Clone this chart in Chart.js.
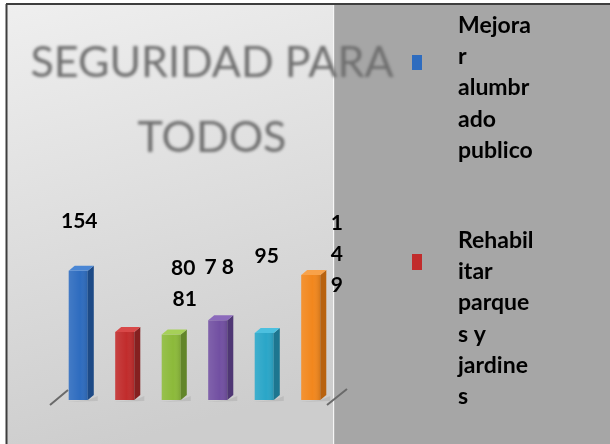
<!DOCTYPE html>
<html><head><meta charset="utf-8">
<script src="https://cdn.jsdelivr.net/npm/chart.js@4.4.0/dist/chart.umd.min.js"></script>
<style>html,body{margin:0;padding:0;background:#fff;overflow:hidden}canvas{display:block}</style>
</head><body>
<canvas id="c" width="610" height="444"></canvas>
<script>
// ---- data ----
const categories = [''];
const titleLines = ['SEGURIDAD PARA', 'TODOS'];
const seriesNames = ['Mejorar alumbrado publico', 'Rehabilitar parques y jardines', '', '', '', ''];
const legendLabels = [
  ['Mejora', 'r', 'alumbr', 'ado', 'publico'],
  ['Rehabil', 'itar', 'parque', 's y', 'jardine', 's']
];
const seriesValues = [154, 81, 78, 95, 80, 149];

// ---- styles ----
const frontColors = ['#2e6cbf', '#c12c2c', '#8cba3a', '#7250a2', '#2aa6c8', '#f2871d'];
const sideColors  = ['#1d4a86', '#852020', '#62852a', '#4f3774', '#1d7690', '#b8620f'];
const topColors   = ['#4a86d4', '#d84848', '#a6d058', '#8b6abb', '#4cc0df', '#f8a24a'];
// label offsets relative to bar top (dx, dy) and mode
const labelStyle = [
  {dx: 1, dy: -50, mode: 'normal'},
  {dx: 60, dy: -33, mode: 'normal'},
  {dx: 48, dy: -67, mode: 'spaced'},
  {dx: 49, dy: -64, mode: 'normal'},
  {dx: -81, dy: -65, mode: 'normal'},
  {dx: 26, dy: -52, mode: 'stacked'}
];

const deco = {
  id: 'deco',
  beforeDraw(chart) {
    const ctx = chart.ctx, W = chart.width, H = chart.height;
    ctx.save();
    ctx.fillStyle = '#ffffff'; ctx.fillRect(0, 0, W, H);
    const g = ctx.createLinearGradient(0, 5, 120, H);
    g.addColorStop(0, '#efefef'); g.addColorStop(1, '#cdcdcd');
    ctx.fillStyle = g; ctx.fillRect(6, 5, 328, H - 5);
    ctx.fillStyle = '#a6a6a6'; ctx.fillRect(334, 5, W - 334, H - 5);
    ctx.fillStyle = '#f6f6f6'; ctx.fillRect(333, 5, 1.2, H - 5);
    ctx.strokeStyle = '#3e3e3e'; ctx.lineWidth = 2;
    ctx.beginPath();
    ctx.moveTo(6, 4); ctx.lineTo(W, 4);
    ctx.moveTo(6.5, 4); ctx.lineTo(6.5, H);
    ctx.stroke();
    ctx.restore();
    ctx.filter = 'blur(1.4px)';
  },
  beforeDatasetsDraw(chart) {
    chart.ctx.filter = 'none';
  },
  afterDatasetsDraw(chart) {
    const ctx = chart.ctx, area = chart.chartArea;
    ctx.save();
    // floor edges
    ctx.strokeStyle = '#6a6a6a'; ctx.lineWidth = 2;
    ctx.beginPath();
    ctx.moveTo(area.left - 5, area.bottom + 5); ctx.lineTo(area.left + 13, area.bottom - 10);
    ctx.moveTo(area.right - 7, area.bottom + 5); ctx.lineTo(area.right + 13, area.bottom - 11);
    ctx.stroke();
    const dx = 6, dy = 5;
    chart.data.datasets.forEach((ds, di) => {
      const meta = chart.getDatasetMeta(di);
      meta.data.forEach((bar) => {
        const p = bar.getProps(['x', 'y', 'base', 'width'], true);
        const l = p.x - p.width / 2, r = p.x + p.width / 2;
        ctx.fillStyle = 'rgba(0,0,0,0.08)';
        ctx.beginPath(); ctx.moveTo(r, p.base); ctx.lineTo(r + 10, p.base - 4); ctx.lineTo(r + 10, p.base + 1); ctx.lineTo(l - 2, p.base + 2); ctx.closePath(); ctx.fill();
        ctx.fillStyle = sideColors[di];
        ctx.beginPath(); ctx.moveTo(r, p.y); ctx.lineTo(r + dx, p.y - dy); ctx.lineTo(r + dx, p.base - dy); ctx.lineTo(r, p.base); ctx.closePath(); ctx.fill();
        ctx.fillStyle = topColors[di];
        ctx.beginPath(); ctx.moveTo(l, p.y); ctx.lineTo(l + dx, p.y - dy); ctx.lineTo(r + dx, p.y - dy); ctx.lineTo(r, p.y); ctx.closePath(); ctx.fill();
        const g = ctx.createLinearGradient(l, 0, r, 0);
        g.addColorStop(0, 'rgba(255,255,255,0.10)'); g.addColorStop(0.6, 'rgba(255,255,255,0.0)'); g.addColorStop(1, 'rgba(0,0,0,0.12)');
        ctx.fillStyle = g; ctx.fillRect(l, p.y, p.width, p.base - p.y);
      });
    });
    // data labels
    ctx.fillStyle = '#000'; ctx.font = 'bold 21px Lato'; ctx.textAlign = 'center'; ctx.textBaseline = 'middle';
    chart.data.datasets.forEach((ds, di) => {
      const meta = chart.getDatasetMeta(di);
      const st = labelStyle[di];
      meta.data.forEach((bar, i) => {
        const txt = String(ds.data[i]);
        const x = bar.x + st.dx, y = bar.y + st.dy;
        if (st.mode === 'stacked') {
          txt.split('').forEach((ch, k) => ctx.fillText(ch, x, y + k * 31));
        } else if (st.mode === 'spaced') {
          ctx.fillText(txt.split('').join(' '), x, y);
        } else {
          ctx.fillText(txt, x, y);
        }
      });
    });
    ctx.restore();
  },
  afterDraw(chart) {
    const ctx = chart.ctx;
    ctx.save();
    const items = [{base: 33, markerY: 55, h: 15}, {base: 248, markerY: 254, h: 16}];
    ctx.font = 'bold 23px Lato'; ctx.textAlign = 'left'; ctx.textBaseline = 'alphabetic';
    legendLabels.forEach((lines, i) => {
      const it = items[i];
      ctx.fillStyle = chart.data.datasets[i].backgroundColor;
      ctx.fillRect(412, it.markerY, 10, it.h);
      ctx.fillStyle = '#000';
      lines.forEach((ln, k) => ctx.fillText(ln, 458, it.base + k * 31.2));
    });
    ctx.restore();
  }
};

const datasets = seriesValues.map((v, i) => ({
  label: seriesNames[i],
  data: [v],
  backgroundColor: frontColors[i],
  borderWidth: 0,
  barPercentage: 0.41,
  categoryPercentage: 1.0
}));

new Chart(document.getElementById('c'), {
  type: 'bar',
  data: {labels: categories, datasets},
  plugins: [deco],
  options: {
    responsive: false,
    animation: false,
    devicePixelRatio: 1,
    layout: {padding: {left: 0, right: 186, top: 0, bottom: 44}},
    plugins: {
      legend: {display: false},
      tooltip: {enabled: false},
      title: {
        display: true,
        text: titleLines,
        color: '#6f6f6f',
        font: {family: 'Lato', size: 43, weight: 'normal', lineHeight: '75px'},
        padding: {top: 26, bottom: 0}
      }
    },
    scales: {
      x: {display: false, offset: true},
      y: {
        display: true, min: 0, max: 267,
        ticks: {display: false}, grid: {display: false}, border: {display: false},
        afterFit(scale) { scale.width = 55; }
      },
      y2: {
        display: true, position: 'right',
        ticks: {display: false}, grid: {display: false}, border: {display: false},
        afterFit(scale) { scale.width = 90; }
      }
    }
  }
});
</script>
</body></html>
